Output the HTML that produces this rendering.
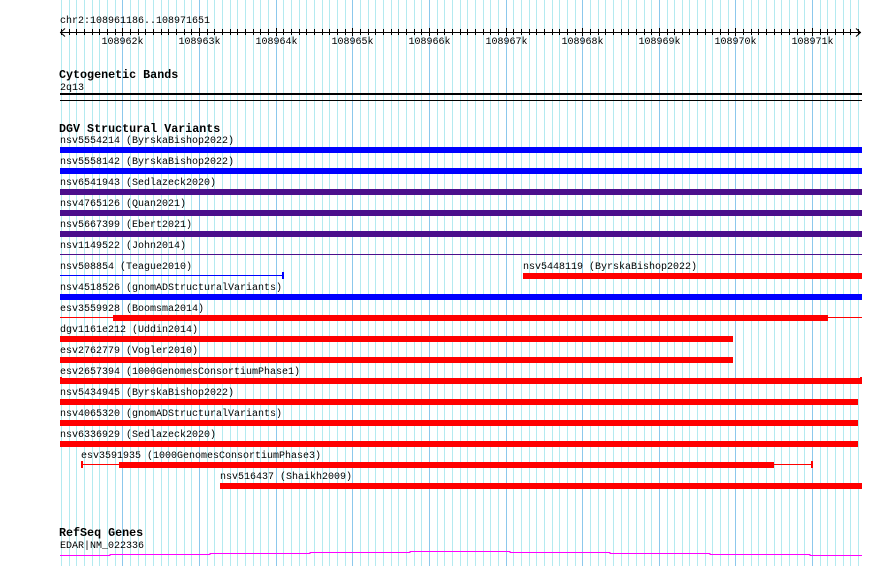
<!DOCTYPE html>
<html><head><meta charset="utf-8">
<style>
html,body{margin:0;padding:0;background:#fff;width:890px;height:566px;overflow:hidden}
svg{display:block}
text{font-family:"Liberation Mono","DejaVu Sans Mono",monospace;font-size:10px;fill:#000}
.b{font-weight:bold;font-size:11.7px}
</style></head><body>
<svg id="s" width="890" height="566" xmlns="http://www.w3.org/2000/svg">
<g id="grid"></g>
<g id="ruler"></g>
<text x="60" y="23">chr2:108961186..108971651</text>
<text class="b" x="59" y="78">Cytogenetic Bands</text>
<text x="60" y="90">2q13</text>
<rect x="60" y="93" width="802" height="2" fill="#000"/>
<rect x="60" y="100" width="802" height="1" fill="#000"/>
<text class="b" x="59" y="132">DGV Structural Variants</text>
<g id="rows"></g>
<text class="b" x="59" y="536">RefSeq Genes</text>
<text x="60" y="548">EDAR|NM_022336</text>
<path d="M60 555.5H110V554.5H210V553.5H310V552.5H410V551.5H510V552.5H610V553.5H710V554.5H810V555.5H862" stroke="#ff00ff" stroke-width="1" fill="none"/>
</svg>
<script>
var NS="http://www.w3.org/2000/svg";
function el(p,t,a,txt){var e=document.createElementNS(NS,t);for(var k in a)e.setAttribute(k,a[k]);if(txt)e.textContent=txt;document.getElementById(p).appendChild(e);return e;}
var S=108961186,sc=802/10465;
function X(bp){return 60+(bp-S)*sc;}
for(var bp=108961200;bp<=108971651;bp+=100){
 var x=Math.round(X(bp))+0.5;var major=bp%1000==0;
 el("grid","line",{x1:x,x2:x,y1:0,y2:566,stroke:major?"#8cc8ec":"#b4eaf0","stroke-width":1});
 el("ruler","line",{x1:x,x2:x,y1:major?28:29,y2:major?36:35,stroke:"#000"});
 if(major) el("ruler","text",{x:x,y:44,"text-anchor":"middle"},(bp/1000)+"k");
}
el("ruler","line",{x1:60,x2:861,y1:32.5,y2:32.5,stroke:"#000"});
el("ruler","path",{d:"M65 28.5L60.5 32.5L65 36.5M856 28.5L860.5 32.5L856 36.5",stroke:"#000",fill:"none"});
var B="#0000ff",P="#4b0f8c",R="#ff0000";
var rows=[
["nsv5554214 (ByrskaBishop2022)",60,[[60,862,B]]],
["nsv5558142 (ByrskaBishop2022)",60,[[60,862,B]]],
["nsv6541943 (Sedlazeck2020)",60,[[60,862,P]]],
["nsv4765126 (Quan2021)",60,[[60,862,P]]],
["nsv5667399 (Ebert2021)",60,[[60,862,P]]],
["nsv1149522 (John2014)",60,[[60,862,P,1]]],
["nsv508854 (Teague2010)",60,[[60,283,B,1],[282,284,B,2]]],
["nsv4518526 (gnomADStructuralVariants)",60,[[60,862,B]]],
["esv3559928 (Boomsma2014)",60,[[60,113,R,1],[113,828,R],[828,862,R,1]]],
["dgv1161e212 (Uddin2014)",60,[[60,733,R]]],
["esv2762779 (Vogler2010)",60,[[60,733,R]]],
["esv2657394 (1000GenomesConsortiumPhase1)",60,[[60,862,R],[60,62,R,2],[860,862,R,2]]],
["nsv5434945 (ByrskaBishop2022)",60,[[60,858,R]]],
["nsv4065320 (gnomADStructuralVariants)",60,[[60,858,R]]],
["nsv6336929 (Sedlazeck2020)",60,[[60,858,R]]],
["esv3591935 (1000GenomesConsortiumPhase3)",81,[[81,812,R,1],[81,83,R,2],[811,813,R,2],[119,774,R]]],
["nsv516437 (Shaikh2009)",220,[[220,862,R]]]
];
rows.forEach(function(r,i){
 var y=140+21*i;
 el("rows","text",{x:r[1],y:y+3},r[0]);
 r[2].forEach(function(b){
  if(b[3]==1) el("rows","rect",{x:b[0],y:y+9,width:b[1]-b[0],height:1,fill:b[2]});
  else if(b[3]==2) el("rows","rect",{x:b[0],y:y+6,width:b[1]-b[0],height:7,fill:b[2]});
  else el("rows","rect",{x:b[0],y:y+7,width:b[1]-b[0],height:6,fill:b[2]});
 });
});
el("rows","text",{x:523,y:140+21*6+3},"nsv5448119 (ByrskaBishop2022)");
el("rows","rect",{x:523,y:140+21*6+7,width:339,height:6,fill:R});
</script>
</body></html>
